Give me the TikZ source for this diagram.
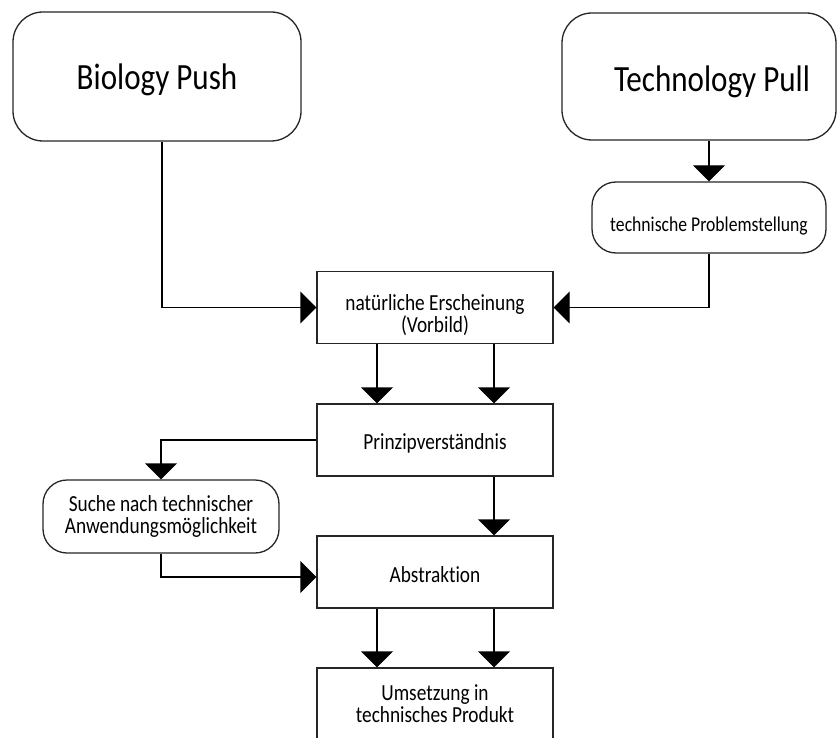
\documentclass[tikz,border=0pt]{standalone}
\usepackage{fontspec}
\setmainfont{Carlito}[FakeStretch=0.84,Ligatures=NoCommon]
\usetikzlibrary{arrows.meta}
\tikzset{
  boxbase/.style={draw=black!85, line width=1.3pt, fill=white, align=center, inner sep=0pt},
  rbox/.style={boxbase, minimum width=236pt, minimum height=72pt},
  roundbig/.style={boxbase, rounded corners=30pt},
  roundsmall/.style={boxbase, rounded corners=24pt},
  bigtxt/.style={font=\fontsize{37}{42}\selectfont},
  smalltxt/.style={font=\fontsize{23}{22}\selectfont},
  tptxt/.style={font=\fontsize{21}{22}\selectfont},
  conn/.style={draw=black, line width=1.3pt, -{Triangle[length=16pt,width=32pt]}},
}
\begin{document}
\begin{tikzpicture}[x=1pt,y=-1pt]
\useasboundingbox (0,0) rectangle (837,738);
\clip (0,0) rectangle (837,738);
\fill[white] (0,0) rectangle (837,738);

\node[roundbig, bigtxt, minimum width=288pt, minimum height=129pt] (bio) at (157,76.5) {\rule{0pt}{32pt}Biology Push};
\node[roundbig, bigtxt, minimum width=274pt, minimum height=127pt] (tech) at (699,76.5) {\rule{0pt}{37pt}\hspace*{26pt}Technology Pull};
\node[roundsmall, tptxt, minimum width=234pt, minimum height=71pt] (tp) at (709,217.5) {\rule{0pt}{31pt}technische Problemstellung};
\node[rbox, smalltxt] (nat) at (435,307.5) {\rule{0pt}{31pt}natürliche Erscheinung\\(Vorbild)};
\node[rbox, smalltxt] (prin) at (435,440) {\rule{0pt}{22pt}Prinzipverständnis};
\node[roundsmall, smalltxt, minimum width=236pt, minimum height=73pt] (such) at (161,516.5) {Suche nach technischer\\Anwendungsmöglichkeit};
\node[rbox, smalltxt] (abs) at (435,572) {\rule{0pt}{22pt}Abstraktion};
\node[rbox, smalltxt] (ums) at (435,704) {Umsetzung in\\technisches Produkt};

\draw[conn] ([xshift=5pt]bio.south) |- (nat.west);
\draw[conn] (tp.north |- tech.south) -- (tp.north);
\draw[conn] (tp.south) |- (nat.east);
\draw[conn] ([xshift=-58pt]nat.south) -- ([xshift=-58pt]prin.north);
\draw[conn] ([xshift=59pt]nat.south) -- ([xshift=59pt]prin.north);
\draw[conn] (prin.west) -| (such.north);
\draw[conn] ([xshift=59pt]prin.south) -- ([xshift=59pt]abs.north);
\draw[conn] (such.south) |- ([yshift=-5pt]abs.west);
\draw[conn] ([xshift=-58pt]abs.south) -- ([xshift=-58pt]ums.north);
\draw[conn] ([xshift=59pt]abs.south) -- ([xshift=59pt]ums.north);
\end{tikzpicture}
\end{document}
